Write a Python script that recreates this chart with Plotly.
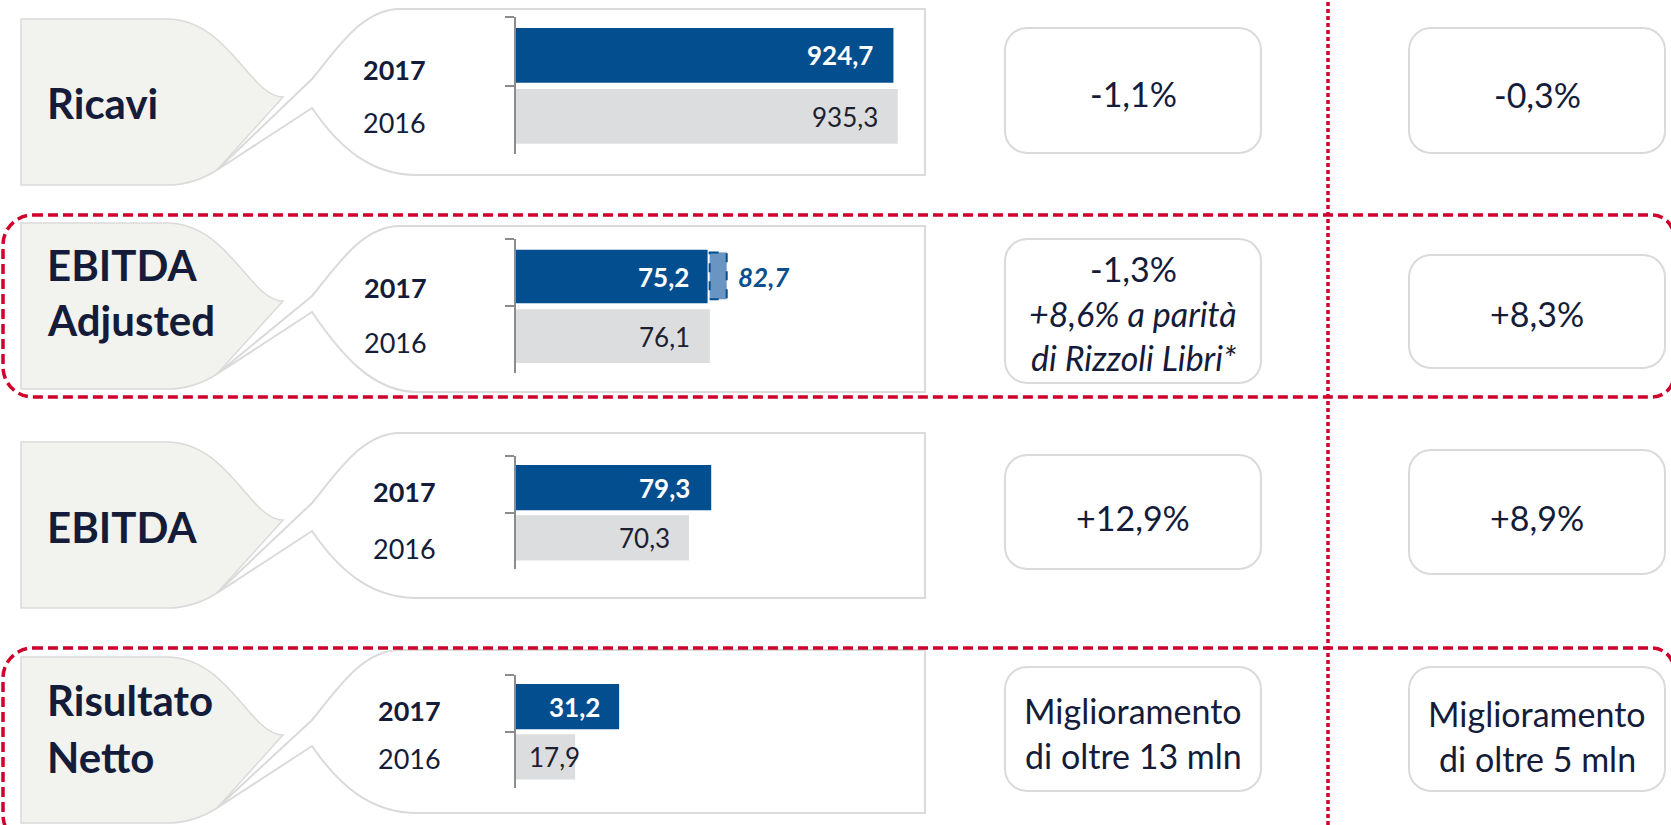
import plotly.graph_objects as go

W, H = 1671, 825

# ---------------- data ----------------
years = ["2017", "2016"]
titles = [["Ricavi"], ["EBITDA", "Adjusted"], ["EBITDA"], ["Risultato", "Netto"]]
ricavi = [924.7, 935.3]
ebitda_adjusted = [75.2, 76.1]
ebitda_adjusted_pro_forma = 82.7
ebitda = [79.3, 70.3]
risultato_netto = [31.2, 17.9]
series = [ricavi, ebitda_adjusted, ebitda, risultato_netto]

var_col1 = [["-1,1%"],
            ["-1,3%", "<i>+8,6% a parità</i>", "<i>di Rizzoli Libri*</i>"],
            ["+12,9%"],
            ["Miglioramento", "di oltre 13 mln"]]
var_col2 = [["-0,3%"], ["+8,3%"], ["+8,9%"], ["Miglioramento", "di oltre 5 mln"]]

# ---------------- layout constants (pixels) ----------------
FONT = "Lato"
NAVY = "#141c3a"
BLUE = "#034e8f"
GREY_BAR = "#dcdddf"
RED = "#d0002c"
LINE_GREY = "#dadada"

rows = [
    dict(gt=19, bt=9, bh=166, br=(17, 154), title_y=[103], year_x=394, year_y=(70, 123),
         box1=(28, 153), box2=(28, 153), t1_y=[93], t2_y=[95]),
    dict(gt=223, bt=226, bh=166, br=(239, 373), title_y=[265, 320], year_x=395, year_y=(287, 342),
         box1=(239, 383), box2=(255, 368), t1_y=[268, 313, 357], t2_y=[313]),
    dict(gt=442, bt=433, bh=165, br=(456, 569), title_y=[527], year_x=404, year_y=(492, 548),
         box1=(455, 569), box2=(450, 574), t1_y=[517], t2_y=[517]),
    dict(gt=657, bt=650, bh=163, br=(675, 788), title_y=[700, 757], year_x=409, year_y=(710, 758),
         box1=(667, 791), box2=(667, 791), t1_y=[710, 755], t2_y=[713, 758]),
]
x_max = [980, 157, 162.5, 121]
label_xshift = [[-18, -18], [-17, -18], [-19, -17], [-17, 7]]
BAR_X0, BAR_X1 = 516, 916
COL1 = (1005, 1261)
COL2 = (1409, 1665)


def px(x):
    return x / W


def py(y):
    return 1 - y / H


def path(cmds):
    out = []
    for c in cmds:
        nums = c[1:]
        pts = [f"{px(nums[k]):.5f},{py(nums[k + 1]):.5f}" for k in range(0, len(nums), 2)]
        out.append(c[0] + " " + " ".join(pts))
    return " ".join(out)


def rrect(x0, y0, x1, y1, rl, rr=None):
    rr = rl if rr is None else rr
    k = 0.5523
    return path([
        ("M", x0 + rl, y0), ("L", x1 - rr, y0),
        ("C", x1 - rr + k * rr, y0, x1, y0 + rr - k * rr, x1, y0 + rr),
        ("L", x1, y1 - rr),
        ("C", x1, y1 - rr + k * rr, x1 - rr + k * rr, y1, x1 - rr, y1),
        ("L", x0 + rl, y1),
        ("C", x0 + rl - k * rl, y1, x0, y1 - rl + k * rl, x0, y1 - rl),
        ("L", x0, y0 + rl),
        ("C", x0, y0 + rl - k * rl, x0 + rl - k * rl, y0, x0 + rl, y0),
        ("Z",),
    ])


def grey_path(gt):
    return path([("M", 21, gt), ("L", 167, gt), ("C", 228, gt, 250, gt + 78, 283, gt + 78),
                 ("L", 217, gt + 151), ("C", 200, gt + 162, 185, gt + 166, 167, gt + 166),
                 ("L", 21, gt + 166), ("Z",)])


def bubble_path(gt, bt, bh):
    return path([("M", 925, bt), ("L", 400, bt), ("C", 362, bt, 337, bt + 40, 312, bt + 70),
                 ("L", 217, gt + 151), ("L", 312, gt + 89),
                 ("C", 340, gt + 130, 372, bt + bh, 417, bt + bh),
                 ("L", 925, bt + bh), ("Z",)])


def fmt(v):
    return f"{v:.1f}".replace(".", ",")


fig = go.Figure()
shapes = []
annotations = []
layout = {}

for i, (r, vals) in enumerate(zip(rows, series)):
    n = "" if i == 0 else str(i + 1)
    xa, ya = "x" + n, "y" + n
    # decorative callouts
    shapes.append(dict(type="path", path=grey_path(r["gt"]), xref="paper", yref="paper",
                       fillcolor="#f2f2ef", line=dict(color=LINE_GREY, width=1.5), layer="below"))
    shapes.append(dict(type="path", path=bubble_path(r["gt"], r["bt"], r["bh"]), xref="paper", yref="paper",
                       fillcolor="white", line=dict(color=LINE_GREY, width=2), layer="below"))
    # variation boxes
    shapes.append(dict(type="path", path=rrect(COL1[0], r["box1"][0], COL1[1], r["box1"][1], 22),
                       xref="paper", yref="paper", fillcolor="white",
                       line=dict(color=LINE_GREY, width=2), layer="below"))
    shapes.append(dict(type="path", path=rrect(COL2[0], r["box2"][0], COL2[1], r["box2"][1], 22),
                       xref="paper", yref="paper", fillcolor="white",
                       line=dict(color=LINE_GREY, width=2), layer="below"))

    # bars
    fig.add_trace(go.Bar(
        x=vals, y=years, orientation="h",
        marker=dict(color=[BLUE, GREY_BAR], line=dict(width=0)),
        width=0.8, offset=[-0.34, -0.45],
        xaxis=xa, yaxis=ya, hoverinfo="skip", showlegend=False))

    layout["xaxis" + n] = dict(domain=[px(BAR_X0), px(BAR_X1)], range=[0, x_max[i]], visible=False,
                               anchor=ya, fixedrange=True)
    layout["yaxis" + n] = dict(domain=[py(r["br"][1]), py(r["br"][0])], type="category",
                               categoryorder="array", categoryarray=years, range=[1.5, -0.5],
                               showline=True, linecolor="#8c8c8c", linewidth=2,
                               ticks="outside", tickson="boundaries", ticklen=9, tickwidth=2,
                               tickcolor="#8c8c8c", showticklabels=False, showgrid=False,
                               zeroline=False, anchor=xa, fixedrange=True)

    # value labels (y given as category index on the category axis)
    for j, v in enumerate(vals):
        bold = j == 0
        annotations.append(dict(
            x=v, y=j, xref=xa, yref=ya, xanchor="right", yanchor="middle",
            xshift=label_xshift[i][j], yshift=-4 if j == 0 else 3, showarrow=False,
            text=f"<b>{fmt(v)}</b>" if bold else fmt(v),
            font=dict(family=FONT, size=26, color="white" if bold else "#1c2130")))

    # year labels
    for j, yr in enumerate(years):
        annotations.append(dict(
            x=px(r["year_x"]), y=py(r["year_y"][j]), xref="paper", yref="paper",
            xanchor="center", yanchor="middle", showarrow=False,
            text=f"<b>{yr}</b>" if j == 0 else yr,
            font=dict(family=FONT, size=27, color=NAVY)))

    # titles
    for t, ty in zip(titles[i], r["title_y"]):
        annotations.append(dict(
            x=px(45), y=py(ty), xref="paper", yref="paper", xanchor="left", yanchor="middle",
            showarrow=False, text=f"<b>{t}</b>", font=dict(family=FONT, size=42, color=NAVY)))

    # variation texts
    for txt, ty in zip(var_col1[i], r["t1_y"]):
        annotations.append(dict(
            x=px((COL1[0] + COL1[1]) / 2), y=py(ty), xref="paper", yref="paper",
            xanchor="center", yanchor="middle", showarrow=False, text=txt,
            font=dict(family=FONT, size=34, color=NAVY)))
    for txt, ty in zip(var_col2[i], r["t2_y"]):
        annotations.append(dict(
            x=px((COL2[0] + COL2[1]) / 2), y=py(ty), xref="paper", yref="paper",
            xanchor="center", yanchor="middle", showarrow=False, text=txt,
            font=dict(family=FONT, size=34, color=NAVY)))

# EBITDA adjusted pro-forma extension (dashed box) and label
shapes.append(dict(type="rect", xref="x2", yref="y2",
                   x0=ebitda_adjusted[0] + 0.8, x1=ebitda_adjusted_pro_forma, y0=-0.30, y1=0.40,
                   fillcolor="#6a95c2", line=dict(color=BLUE, width=2, dash="dash"), layer="above"))
annotations.append(dict(
    x=ebitda_adjusted_pro_forma, y=0, xref="x2", yref="y2", xanchor="left", yanchor="middle",
    xshift=9, yshift=-4, showarrow=False, text=f"<b><i>{fmt(ebitda_adjusted_pro_forma)}</i></b>",
    font=dict(family=FONT, size=26, color="#0b4f8f")))

# red highlight frames and separator
shapes.append(dict(type="path", path=rrect(3, 215, 1674, 397, 30, 22), xref="paper", yref="paper",
                   line=dict(color=RED, width=3.5, dash="10px,5px"), layer="above"))
shapes.append(dict(type="path", path=rrect(3, 648, 1674, 845, 30, 22), xref="paper", yref="paper",
                   line=dict(color=RED, width=3.5, dash="10px,5px"), layer="above"))
shapes.append(dict(type="line", x0=px(1328), x1=px(1328), y0=0, y1=1, xref="paper", yref="paper",
                   line=dict(color=RED, width=3.5, dash="4px,3px"), layer="above"))

fig.update_layout(
    width=W, height=H, margin=dict(l=0, r=0, t=0, b=0),
    paper_bgcolor="white", plot_bgcolor="rgba(0,0,0,0)",
    showlegend=False, barmode="overlay",
    shapes=shapes, annotations=annotations, **layout)

fig.write_html("out.html", config={"displayModeBar": False},
               post_script="document.body.style.margin='0';document.body.style.overflow='hidden';")
